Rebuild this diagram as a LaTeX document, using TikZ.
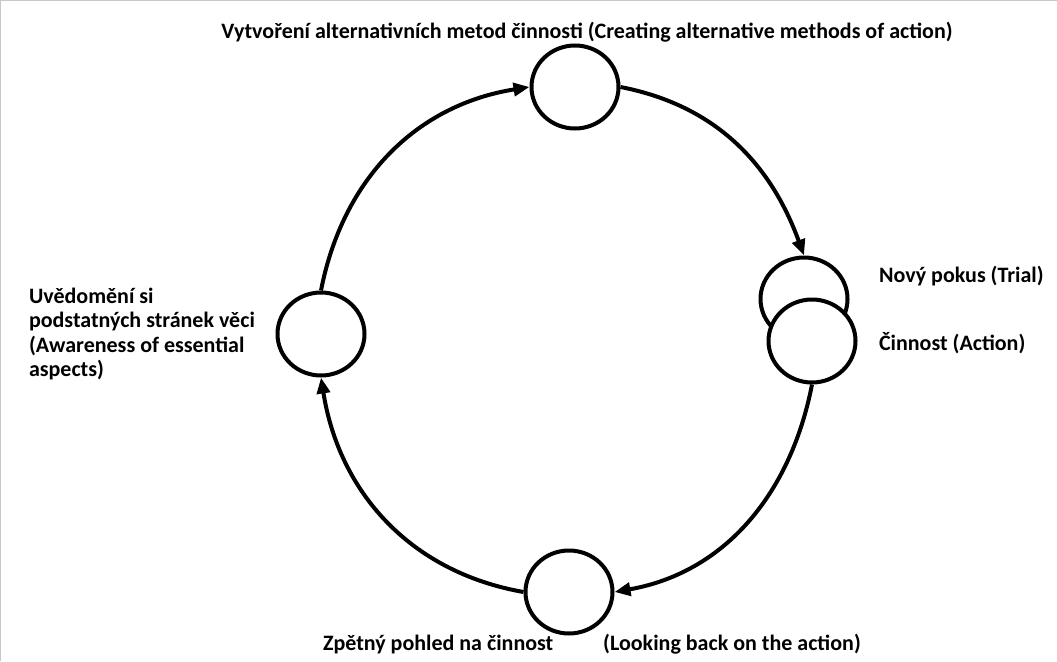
\documentclass[tikz,border=0pt]{standalone}
\usepackage{fontspec}
\setmainfont{Carlito}
\usetikzlibrary{arrows.meta,positioning,shapes.geometric}

\begin{document}
\begin{tikzpicture}[x=1pt,y=1pt,line width=4pt,>={Triangle[length=16pt,width=13pt]},
    stage/.style={draw,ellipse,fill=white,minimum width=87pt,minimum height=83pt,inner sep=0pt},
    txt/.style={font=\fontsize{22}{24.3}\selectfont\bfseries,inner sep=0pt,anchor=west}]
    \useasboundingbox (0,0) rectangle (1057,-661);
    \draw[line width=1.5pt,black!22] (0,-661) -- (0,0) -- (1057,0);
    % the stages of the cycle
    \node[stage] (create) at (575,-87) {};
    \node[stage] (trial) at (804,-299) {};
    \node[stage] (action) at (812,-341) {};
    \node[stage] (back) at (569,-592) {};
    \node[stage] (aware) at (321,-334) {};
    \path[->]
    (aware.north) edge [out=79,in=189] (create.west)
    (create.east) edge [out=-11,in=110] (trial.north)
    (action.south) edge [out=-101,in=10] (back.east)
    (back.west) edge [out=170,in=-81] (aware.south);
    % texts
    \node[txt,anchor=base] (createtext) at (587,-39) {Vytvoření alternativních metod činnosti (Creating alternative methods of action)};
    \node[txt,anchor=base west] (trialtext) at (877,-282) {Nový pokus (Trial)};
    \node[txt,anchor=base west] (actiontext) at (877,-350) {Činnost (Action)};
    \node[txt,align=left] (awaretext) at (27,-334) {Uvědomění si\\podstatných stránek věci\\(Awareness of essential\\aspects)};
    \node[txt,anchor=base west] (backtext) at (321,-650) {Zpětný pohled na činnost};
    \node[txt] (backtexten) [base right=46pt of backtext] {(Looking back on the action)};
\end{tikzpicture}
\end{document}
